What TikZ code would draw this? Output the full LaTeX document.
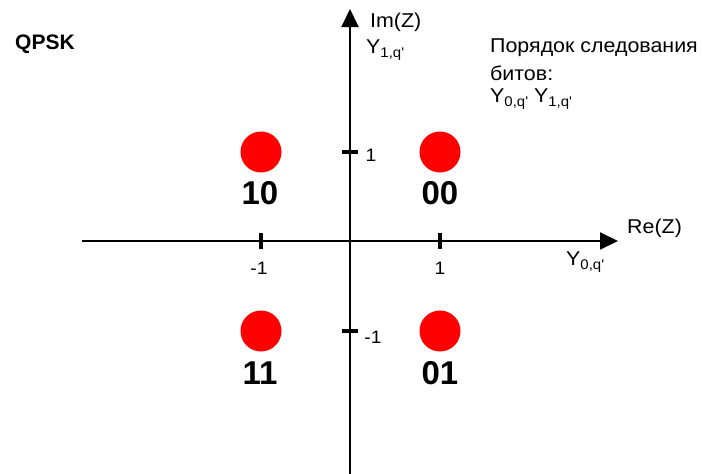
\documentclass[tikz,border=0pt]{standalone}
\usepackage{fontspec}
\setmainfont{Liberation Sans}
\newfontfamily\widefont[FakeStretch=1.07]{Liberation Sans}
\usetikzlibrary{arrows.meta}
\newcommand{\sbs}[1]{\raisebox{-0.4ex}{\fontsize{14}{14}\selectfont #1}}
\begin{document}
\begin{tikzpicture}[x=1pt,y=-1pt,
  axis/.style={line width=2pt,-{Triangle[length=18pt,width=17pt]}},
  tick/.style={line width=4pt},
  dot/.style={circle,fill=red,minimum size=41pt,inner sep=0pt},
  code/.style={font=\fontsize{33}{33}\selectfont\bfseries,inner sep=0pt},
  lbl/.style={font=\widefont\fontsize{20}{22}\selectfont,inner sep=0pt},
  num/.style={font=\widefont\fontsize{18}{20}\selectfont,inner sep=0pt}]
\useasboundingbox (0,0) rectangle (702,474);
% axes
\coordinate (xs) at (82,241);
\coordinate (xe) at (618,241);
\coordinate (ys) at (350,474);
\coordinate (ye) at (350,9);
\draw[axis] (xs) -- (xe);
\draw[axis] (ys) -- (ye);
% ticks
\coordinate (tx1a) at (261,233); \coordinate (tx1b) at (261,249);
\coordinate (tx2a) at (440,233); \coordinate (tx2b) at (440,249);
\coordinate (ty1a) at (342,152); \coordinate (ty1b) at (358,152);
\coordinate (ty2a) at (342,331); \coordinate (ty2b) at (358,331);
\draw[tick] (tx1a) -- (tx1b);
\draw[tick] (tx2a) -- (tx2b);
\draw[tick] (ty1a) -- (ty1b);
\draw[tick] (ty2a) -- (ty2b);
% tick labels
\node[num] (lm1x) at (259,268) {-1};
\node[num] (l1x) at (440,268) {1};
\node[num] (l1y) at (371,155) {1};
\node[num] (lm1y) at (373,337) {-1};
% constellation points
\node[dot] (p10) at (261,152) {};
\node[dot] (p00) at (440,152) {};
\node[dot] (p11) at (261,331) {};
\node[dot] (p01) at (440,331) {};
\node[code] (c10) at (260,193) {10};
\node[code] (c00) at (440,193) {00};
\node[code] (c11) at (260,373) {11};
\node[code] (c01) at (440,373) {01};
% labels
\node[lbl,font=\fontsize{21}{23}\selectfont\bfseries,anchor=west] (qpsk) at (15,44) {QPSK};
\node[lbl,anchor=west] (im) at (370,22) {Im(Z)};
\node[lbl,anchor=west] (y1) at (366,50) {Y\sbs{1,q'}};
\node[lbl,anchor=west] (re) at (627,228) {Re(Z)};
\node[lbl,anchor=west] (y0) at (566,262) {Y\sbs{0,q'}};
\node[lbl,anchor=west] (ord1) at (490,48) {Порядок следования};
\node[lbl,anchor=west] (ord2) at (490,73) {битов:};
\node[lbl,anchor=west] (ord3) at (490,99) {Y\sbs{0,q'} Y\sbs{1,q'}};
\end{tikzpicture}
\end{document}
